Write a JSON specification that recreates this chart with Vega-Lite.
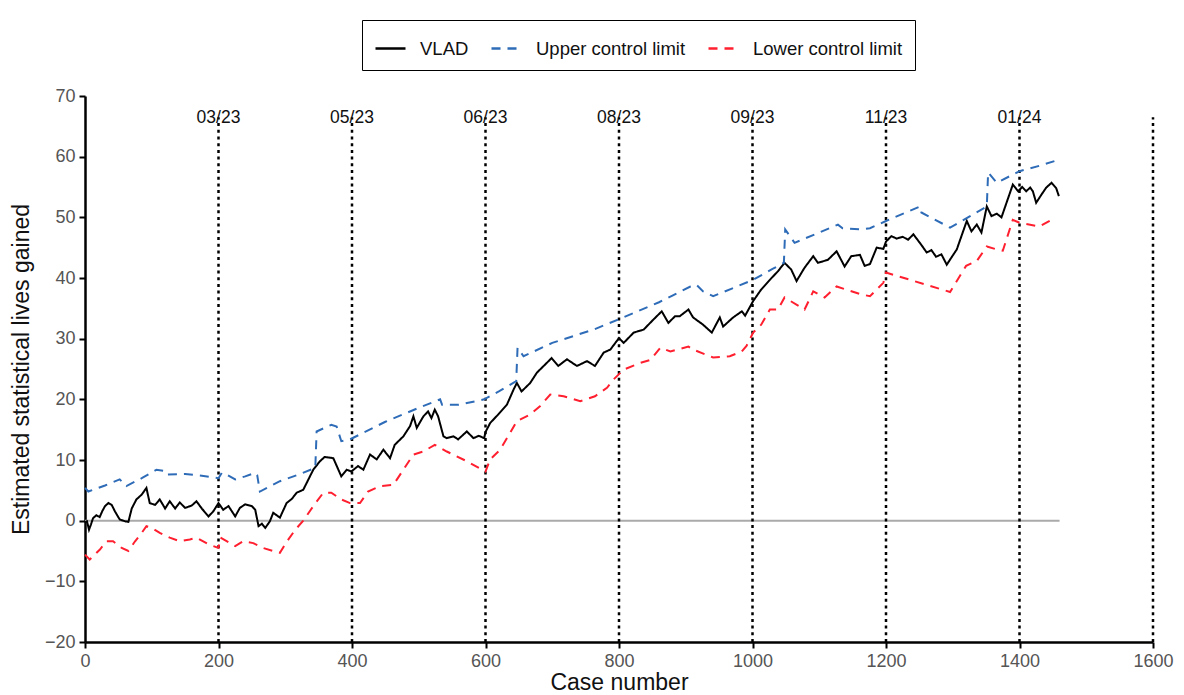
{
  "$schema": "https://vega.github.io/schema/vega-lite/v6.json",
  "width": 1068,
  "height": 546,
  "autosize": {"type": "none"},
  "padding": {"left": 85, "top": 96, "right": 31, "bottom": 53},
  "background": "white",
  "config": {
    "view": {"stroke": null},
    "font": "Liberation Sans",
    "axis": {
      "grid": false,
      "labelFlush": false,
      "domainColor": "#000000",
      "domainWidth": 2.5,
      "tickColor": "#000000",
      "tickWidth": 2,
      "tickSize": 6,
      "labelFont": "Liberation Sans",
      "labelFontSize": 18,
      "labelColor": "#555555",
      "labelPadding": 4,
      "titleFont": "Liberation Sans",
      "titleFontSize": 23,
      "titleFontWeight": "normal",
      "titleColor": "#111111"
    },
    "legend": {
      "strokeColor": "#000000",
      "padding": 12,
      "labelFontSize": 18.5,
      "labelFont": "Liberation Sans",
      "labelColor": "#111111",
      "labelOffset": 13,
      "columnPadding": 17,
      "symbolType": "stroke",
      "symbolSize": 900,
      "symbolStrokeWidth": 2.5
    }
  },
  "datasets": {
    "zero": [{"case": 0, "value": 0}, {"case": 1460, "value": 0}],
    "months": [
      {"case": 200, "label": "03/23"},
      {"case": 400, "label": "05/23"},
      {"case": 600, "label": "06/23"},
      {"case": 800, "label": "08/23"},
      {"case": 1000, "label": "09/23"},
      {"case": 1200, "label": "11/23"},
      {"case": 1400, "label": "01/24"},
      {"case": 1600, "label": ""}
    ],
    "series": [
      {"series": "VLAD", "case": 0, "value": -0.3},
      {"series": "VLAD", "case": 3, "value": -0.1},
      {"series": "VLAD", "case": 6, "value": -1.5},
      {"series": "VLAD", "case": 9, "value": -0.6},
      {"series": "VLAD", "case": 12, "value": 0.4},
      {"series": "VLAD", "case": 17, "value": 0.9},
      {"series": "VLAD", "case": 22, "value": 0.6},
      {"series": "VLAD", "case": 26, "value": 1.6},
      {"series": "VLAD", "case": 30, "value": 2.4},
      {"series": "VLAD", "case": 35, "value": 2.9},
      {"series": "VLAD", "case": 40, "value": 2.6},
      {"series": "VLAD", "case": 45, "value": 1.5},
      {"series": "VLAD", "case": 52, "value": 0.2},
      {"series": "VLAD", "case": 60, "value": -0.1},
      {"series": "VLAD", "case": 65, "value": -0.2},
      {"series": "VLAD", "case": 70, "value": 2.0},
      {"series": "VLAD", "case": 77, "value": 3.5},
      {"series": "VLAD", "case": 85, "value": 4.3},
      {"series": "VLAD", "case": 92, "value": 5.4},
      {"series": "VLAD", "case": 97, "value": 2.9},
      {"series": "VLAD", "case": 105, "value": 2.6},
      {"series": "VLAD", "case": 112, "value": 3.5},
      {"series": "VLAD", "case": 120, "value": 2.0},
      {"series": "VLAD", "case": 127, "value": 3.2},
      {"series": "VLAD", "case": 135, "value": 2.0},
      {"series": "VLAD", "case": 142, "value": 3.0},
      {"series": "VLAD", "case": 150, "value": 2.1},
      {"series": "VLAD", "case": 160, "value": 2.5},
      {"series": "VLAD", "case": 167, "value": 3.2},
      {"series": "VLAD", "case": 175, "value": 2.0},
      {"series": "VLAD", "case": 185, "value": 0.7},
      {"series": "VLAD", "case": 192, "value": 1.5},
      {"series": "VLAD", "case": 200, "value": 2.9},
      {"series": "VLAD", "case": 207, "value": 1.8},
      {"series": "VLAD", "case": 215, "value": 2.4},
      {"series": "VLAD", "case": 225, "value": 0.7},
      {"series": "VLAD", "case": 232, "value": 2.1},
      {"series": "VLAD", "case": 240, "value": 2.7},
      {"series": "VLAD", "case": 250, "value": 2.4},
      {"series": "VLAD", "case": 255, "value": 1.8},
      {"series": "VLAD", "case": 260, "value": -0.9},
      {"series": "VLAD", "case": 265, "value": -0.5},
      {"series": "VLAD", "case": 270, "value": -1.2},
      {"series": "VLAD", "case": 277, "value": -0.1},
      {"series": "VLAD", "case": 282, "value": 1.3},
      {"series": "VLAD", "case": 292, "value": 0.5},
      {"series": "VLAD", "case": 302, "value": 2.9},
      {"series": "VLAD", "case": 310, "value": 3.6},
      {"series": "VLAD", "case": 317, "value": 4.6},
      {"series": "VLAD", "case": 327, "value": 5.1},
      {"series": "VLAD", "case": 332, "value": 6.2},
      {"series": "VLAD", "case": 342, "value": 8.4},
      {"series": "VLAD", "case": 352, "value": 9.8},
      {"series": "VLAD", "case": 359, "value": 10.5},
      {"series": "VLAD", "case": 372, "value": 10.3},
      {"series": "VLAD", "case": 384, "value": 7.3},
      {"series": "VLAD", "case": 392, "value": 8.4},
      {"series": "VLAD", "case": 399, "value": 8.1},
      {"series": "VLAD", "case": 409, "value": 9.0},
      {"series": "VLAD", "case": 417, "value": 8.4},
      {"series": "VLAD", "case": 427, "value": 10.9},
      {"series": "VLAD", "case": 437, "value": 10.1},
      {"series": "VLAD", "case": 447, "value": 11.7},
      {"series": "VLAD", "case": 457, "value": 10.3},
      {"series": "VLAD", "case": 464, "value": 12.5},
      {"series": "VLAD", "case": 477, "value": 13.9},
      {"series": "VLAD", "case": 487, "value": 15.6},
      {"series": "VLAD", "case": 492, "value": 17.2},
      {"series": "VLAD", "case": 497, "value": 15.3},
      {"series": "VLAD", "case": 507, "value": 17.2},
      {"series": "VLAD", "case": 514, "value": 18.0},
      {"series": "VLAD", "case": 519, "value": 16.9},
      {"series": "VLAD", "case": 524, "value": 18.3},
      {"series": "VLAD", "case": 529, "value": 17.2},
      {"series": "VLAD", "case": 537, "value": 13.9},
      {"series": "VLAD", "case": 542, "value": 13.6},
      {"series": "VLAD", "case": 552, "value": 13.9},
      {"series": "VLAD", "case": 559, "value": 13.4},
      {"series": "VLAD", "case": 572, "value": 14.7},
      {"series": "VLAD", "case": 582, "value": 13.6},
      {"series": "VLAD", "case": 590, "value": 14.0},
      {"series": "VLAD", "case": 598, "value": 13.6},
      {"series": "VLAD", "case": 600, "value": 14.6},
      {"series": "VLAD", "case": 607, "value": 16.1},
      {"series": "VLAD", "case": 619, "value": 17.5},
      {"series": "VLAD", "case": 632, "value": 19.1},
      {"series": "VLAD", "case": 642, "value": 21.6},
      {"series": "VLAD", "case": 647, "value": 22.7},
      {"series": "VLAD", "case": 654, "value": 21.3},
      {"series": "VLAD", "case": 667, "value": 22.7},
      {"series": "VLAD", "case": 677, "value": 24.4},
      {"series": "VLAD", "case": 689, "value": 25.7},
      {"series": "VLAD", "case": 699, "value": 26.8},
      {"series": "VLAD", "case": 709, "value": 25.5},
      {"series": "VLAD", "case": 722, "value": 26.6},
      {"series": "VLAD", "case": 737, "value": 25.5},
      {"series": "VLAD", "case": 752, "value": 26.3},
      {"series": "VLAD", "case": 764, "value": 25.5},
      {"series": "VLAD", "case": 777, "value": 27.7},
      {"series": "VLAD", "case": 787, "value": 28.2},
      {"series": "VLAD", "case": 800, "value": 30.1},
      {"series": "VLAD", "case": 807, "value": 29.3},
      {"series": "VLAD", "case": 822, "value": 31.0},
      {"series": "VLAD", "case": 837, "value": 31.5},
      {"series": "VLAD", "case": 852, "value": 33.2},
      {"series": "VLAD", "case": 864, "value": 34.5},
      {"series": "VLAD", "case": 874, "value": 32.6},
      {"series": "VLAD", "case": 884, "value": 33.7},
      {"series": "VLAD", "case": 891, "value": 33.7},
      {"series": "VLAD", "case": 904, "value": 34.8},
      {"series": "VLAD", "case": 911, "value": 33.5},
      {"series": "VLAD", "case": 926, "value": 32.3},
      {"series": "VLAD", "case": 939, "value": 31.0},
      {"series": "VLAD", "case": 951, "value": 33.5},
      {"series": "VLAD", "case": 956, "value": 32.0},
      {"series": "VLAD", "case": 971, "value": 33.5},
      {"series": "VLAD", "case": 984, "value": 34.5},
      {"series": "VLAD", "case": 989, "value": 33.8},
      {"series": "VLAD", "case": 1001, "value": 36.2},
      {"series": "VLAD", "case": 1013, "value": 38.1},
      {"series": "VLAD", "case": 1026, "value": 39.7},
      {"series": "VLAD", "case": 1038, "value": 41.1},
      {"series": "VLAD", "case": 1048, "value": 42.5},
      {"series": "VLAD", "case": 1058, "value": 41.4},
      {"series": "VLAD", "case": 1066, "value": 39.5},
      {"series": "VLAD", "case": 1078, "value": 41.7},
      {"series": "VLAD", "case": 1091, "value": 43.6},
      {"series": "VLAD", "case": 1098, "value": 42.5},
      {"series": "VLAD", "case": 1113, "value": 43.0},
      {"series": "VLAD", "case": 1126, "value": 44.4},
      {"series": "VLAD", "case": 1138, "value": 41.9},
      {"series": "VLAD", "case": 1148, "value": 43.6},
      {"series": "VLAD", "case": 1161, "value": 43.8},
      {"series": "VLAD", "case": 1168, "value": 42.0},
      {"series": "VLAD", "case": 1176, "value": 42.3},
      {"series": "VLAD", "case": 1186, "value": 45.0},
      {"series": "VLAD", "case": 1196, "value": 44.8},
      {"series": "VLAD", "case": 1200, "value": 46.0},
      {"series": "VLAD", "case": 1208, "value": 46.9},
      {"series": "VLAD", "case": 1216, "value": 46.5},
      {"series": "VLAD", "case": 1225, "value": 46.8},
      {"series": "VLAD", "case": 1233, "value": 46.3},
      {"series": "VLAD", "case": 1241, "value": 47.2},
      {"series": "VLAD", "case": 1252, "value": 45.6},
      {"series": "VLAD", "case": 1261, "value": 44.2},
      {"series": "VLAD", "case": 1268, "value": 44.6},
      {"series": "VLAD", "case": 1275, "value": 43.5},
      {"series": "VLAD", "case": 1283, "value": 43.9},
      {"series": "VLAD", "case": 1291, "value": 42.2},
      {"series": "VLAD", "case": 1306, "value": 44.7},
      {"series": "VLAD", "case": 1321, "value": 49.4},
      {"series": "VLAD", "case": 1328, "value": 47.7},
      {"series": "VLAD", "case": 1336, "value": 48.8},
      {"series": "VLAD", "case": 1343, "value": 47.5},
      {"series": "VLAD", "case": 1351, "value": 51.8},
      {"series": "VLAD", "case": 1358, "value": 50.2},
      {"series": "VLAD", "case": 1366, "value": 50.6},
      {"series": "VLAD", "case": 1373, "value": 50.0},
      {"series": "VLAD", "case": 1390, "value": 55.4},
      {"series": "VLAD", "case": 1398, "value": 54.3},
      {"series": "VLAD", "case": 1404, "value": 55.0},
      {"series": "VLAD", "case": 1410, "value": 54.3},
      {"series": "VLAD", "case": 1416, "value": 54.9},
      {"series": "VLAD", "case": 1420, "value": 54.3},
      {"series": "VLAD", "case": 1425, "value": 52.4},
      {"series": "VLAD", "case": 1432, "value": 53.6},
      {"series": "VLAD", "case": 1440, "value": 54.9},
      {"series": "VLAD", "case": 1448, "value": 55.7},
      {"series": "VLAD", "case": 1455, "value": 54.8},
      {"series": "VLAD", "case": 1459, "value": 53.5},

      {"series": "Upper control limit", "case": 0, "value": 5.4},
      {"series": "Upper control limit", "case": 5, "value": 4.8},
      {"series": "Upper control limit", "case": 30, "value": 5.8},
      {"series": "Upper control limit", "case": 52, "value": 6.8},
      {"series": "Upper control limit", "case": 62, "value": 5.7},
      {"series": "Upper control limit", "case": 85, "value": 7.0},
      {"series": "Upper control limit", "case": 107, "value": 8.4},
      {"series": "Upper control limit", "case": 120, "value": 8.2},
      {"series": "Upper control limit", "case": 123, "value": 7.6},
      {"series": "Upper control limit", "case": 150, "value": 7.7},
      {"series": "Upper control limit", "case": 175, "value": 7.4},
      {"series": "Upper control limit", "case": 200, "value": 7.0},
      {"series": "Upper control limit", "case": 205, "value": 7.9},
      {"series": "Upper control limit", "case": 212, "value": 7.6},
      {"series": "Upper control limit", "case": 225, "value": 6.8},
      {"series": "Upper control limit", "case": 240, "value": 7.3},
      {"series": "Upper control limit", "case": 255, "value": 7.9},
      {"series": "Upper control limit", "case": 258, "value": 7.5},
      {"series": "Upper control limit", "case": 262, "value": 4.8},
      {"series": "Upper control limit", "case": 292, "value": 6.5},
      {"series": "Upper control limit", "case": 320, "value": 7.6},
      {"series": "Upper control limit", "case": 345, "value": 8.7},
      {"series": "Upper control limit", "case": 347, "value": 14.7},
      {"series": "Upper control limit", "case": 369, "value": 15.8},
      {"series": "Upper control limit", "case": 377, "value": 15.5},
      {"series": "Upper control limit", "case": 384, "value": 13.1},
      {"series": "Upper control limit", "case": 397, "value": 13.4},
      {"series": "Upper control limit", "case": 450, "value": 16.3},
      {"series": "Upper control limit", "case": 500, "value": 18.6},
      {"series": "Upper control limit", "case": 532, "value": 20.0},
      {"series": "Upper control limit", "case": 535, "value": 19.1},
      {"series": "Upper control limit", "case": 560, "value": 19.1},
      {"series": "Upper control limit", "case": 598, "value": 20.0},
      {"series": "Upper control limit", "case": 620, "value": 21.3},
      {"series": "Upper control limit", "case": 646, "value": 23.0},
      {"series": "Upper control limit", "case": 648, "value": 28.5},
      {"series": "Upper control limit", "case": 657, "value": 27.1},
      {"series": "Upper control limit", "case": 700, "value": 29.3},
      {"series": "Upper control limit", "case": 762, "value": 31.5},
      {"series": "Upper control limit", "case": 800, "value": 33.2},
      {"series": "Upper control limit", "case": 860, "value": 36.0},
      {"series": "Upper control limit", "case": 907, "value": 38.6},
      {"series": "Upper control limit", "case": 916, "value": 38.9},
      {"series": "Upper control limit", "case": 926, "value": 37.8},
      {"series": "Upper control limit", "case": 941, "value": 37.0},
      {"series": "Upper control limit", "case": 970, "value": 38.3},
      {"series": "Upper control limit", "case": 1001, "value": 39.7},
      {"series": "Upper control limit", "case": 1030, "value": 41.5},
      {"series": "Upper control limit", "case": 1047, "value": 42.5},
      {"series": "Upper control limit", "case": 1049, "value": 48.0},
      {"series": "Upper control limit", "case": 1063, "value": 45.8},
      {"series": "Upper control limit", "case": 1100, "value": 47.5},
      {"series": "Upper control limit", "case": 1128, "value": 48.8},
      {"series": "Upper control limit", "case": 1135, "value": 48.2},
      {"series": "Upper control limit", "case": 1163, "value": 48.0},
      {"series": "Upper control limit", "case": 1176, "value": 48.2},
      {"series": "Upper control limit", "case": 1200, "value": 49.4},
      {"series": "Upper control limit", "case": 1251, "value": 51.8},
      {"series": "Upper control limit", "case": 1253, "value": 50.8},
      {"series": "Upper control limit", "case": 1296, "value": 48.3},
      {"series": "Upper control limit", "case": 1351, "value": 51.8},
      {"series": "Upper control limit", "case": 1353, "value": 57.4},
      {"series": "Upper control limit", "case": 1366, "value": 55.7},
      {"series": "Upper control limit", "case": 1400, "value": 57.6},
      {"series": "Upper control limit", "case": 1430, "value": 58.5},
      {"series": "Upper control limit", "case": 1459, "value": 59.5},

      {"series": "Lower control limit", "case": 0, "value": -5.6},
      {"series": "Lower control limit", "case": 7, "value": -6.4},
      {"series": "Lower control limit", "case": 22, "value": -4.8},
      {"series": "Lower control limit", "case": 32, "value": -3.4},
      {"series": "Lower control limit", "case": 42, "value": -3.4},
      {"series": "Lower control limit", "case": 55, "value": -4.5},
      {"series": "Lower control limit", "case": 65, "value": -5.0},
      {"series": "Lower control limit", "case": 75, "value": -3.4},
      {"series": "Lower control limit", "case": 85, "value": -2.0},
      {"series": "Lower control limit", "case": 92, "value": -0.9},
      {"series": "Lower control limit", "case": 100, "value": -1.2},
      {"series": "Lower control limit", "case": 112, "value": -2.0},
      {"series": "Lower control limit", "case": 127, "value": -2.8},
      {"series": "Lower control limit", "case": 142, "value": -3.4},
      {"series": "Lower control limit", "case": 157, "value": -3.1},
      {"series": "Lower control limit", "case": 167, "value": -2.8},
      {"series": "Lower control limit", "case": 185, "value": -3.9},
      {"series": "Lower control limit", "case": 200, "value": -4.5},
      {"series": "Lower control limit", "case": 203, "value": -2.8},
      {"series": "Lower control limit", "case": 225, "value": -4.2},
      {"series": "Lower control limit", "case": 237, "value": -3.4},
      {"series": "Lower control limit", "case": 252, "value": -3.7},
      {"series": "Lower control limit", "case": 267, "value": -4.5},
      {"series": "Lower control limit", "case": 282, "value": -5.0},
      {"series": "Lower control limit", "case": 292, "value": -5.3},
      {"series": "Lower control limit", "case": 302, "value": -3.5},
      {"series": "Lower control limit", "case": 315, "value": -1.5},
      {"series": "Lower control limit", "case": 327, "value": 0.0},
      {"series": "Lower control limit", "case": 342, "value": 2.4},
      {"series": "Lower control limit", "case": 357, "value": 4.6},
      {"series": "Lower control limit", "case": 369, "value": 4.6},
      {"series": "Lower control limit", "case": 384, "value": 3.5},
      {"series": "Lower control limit", "case": 397, "value": 2.9},
      {"series": "Lower control limit", "case": 412, "value": 2.9},
      {"series": "Lower control limit", "case": 424, "value": 4.8},
      {"series": "Lower control limit", "case": 442, "value": 5.7},
      {"series": "Lower control limit", "case": 462, "value": 5.9},
      {"series": "Lower control limit", "case": 477, "value": 8.4},
      {"series": "Lower control limit", "case": 492, "value": 10.9},
      {"series": "Lower control limit", "case": 507, "value": 11.4},
      {"series": "Lower control limit", "case": 524, "value": 12.5},
      {"series": "Lower control limit", "case": 542, "value": 11.4},
      {"series": "Lower control limit", "case": 572, "value": 9.8},
      {"series": "Lower control limit", "case": 600, "value": 8.1},
      {"series": "Lower control limit", "case": 607, "value": 10.1},
      {"series": "Lower control limit", "case": 622, "value": 11.7},
      {"series": "Lower control limit", "case": 637, "value": 14.5},
      {"series": "Lower control limit", "case": 647, "value": 16.4},
      {"series": "Lower control limit", "case": 667, "value": 17.5},
      {"series": "Lower control limit", "case": 682, "value": 18.9},
      {"series": "Lower control limit", "case": 697, "value": 20.8},
      {"series": "Lower control limit", "case": 717, "value": 20.5},
      {"series": "Lower control limit", "case": 742, "value": 19.7},
      {"series": "Lower control limit", "case": 764, "value": 20.5},
      {"series": "Lower control limit", "case": 782, "value": 21.9},
      {"series": "Lower control limit", "case": 792, "value": 23.3},
      {"series": "Lower control limit", "case": 807, "value": 24.9},
      {"series": "Lower control limit", "case": 832, "value": 26.0},
      {"series": "Lower control limit", "case": 847, "value": 26.5},
      {"series": "Lower control limit", "case": 862, "value": 28.5},
      {"series": "Lower control limit", "case": 877, "value": 27.9},
      {"series": "Lower control limit", "case": 904, "value": 28.7},
      {"series": "Lower control limit", "case": 911, "value": 28.2},
      {"series": "Lower control limit", "case": 941, "value": 26.9},
      {"series": "Lower control limit", "case": 966, "value": 27.1},
      {"series": "Lower control limit", "case": 984, "value": 27.9},
      {"series": "Lower control limit", "case": 991, "value": 28.8},
      {"series": "Lower control limit", "case": 1001, "value": 31.0},
      {"series": "Lower control limit", "case": 1013, "value": 32.3},
      {"series": "Lower control limit", "case": 1026, "value": 34.8},
      {"series": "Lower control limit", "case": 1038, "value": 34.8},
      {"series": "Lower control limit", "case": 1048, "value": 36.8},
      {"series": "Lower control limit", "case": 1078, "value": 34.8},
      {"series": "Lower control limit", "case": 1091, "value": 37.8},
      {"series": "Lower control limit", "case": 1108, "value": 36.8},
      {"series": "Lower control limit", "case": 1126, "value": 38.6},
      {"series": "Lower control limit", "case": 1163, "value": 37.3},
      {"series": "Lower control limit", "case": 1176, "value": 37.0},
      {"series": "Lower control limit", "case": 1196, "value": 39.2},
      {"series": "Lower control limit", "case": 1200, "value": 40.9},
      {"series": "Lower control limit", "case": 1296, "value": 37.7},
      {"series": "Lower control limit", "case": 1320, "value": 42.0},
      {"series": "Lower control limit", "case": 1336, "value": 42.8},
      {"series": "Lower control limit", "case": 1351, "value": 45.2},
      {"series": "Lower control limit", "case": 1366, "value": 44.7},
      {"series": "Lower control limit", "case": 1375, "value": 44.5},
      {"series": "Lower control limit", "case": 1390, "value": 49.6},
      {"series": "Lower control limit", "case": 1400, "value": 49.1},
      {"series": "Lower control limit", "case": 1430, "value": 48.5},
      {"series": "Lower control limit", "case": 1448, "value": 49.6}
    ]
  },
  "encoding": {
    "x": {
      "field": "case",
      "type": "quantitative",
      "scale": {"domain": [0, 1600], "nice": false},
      "axis": {"values": [0, 200, 400, 600, 800, 1000, 1200, 1400, 1600], "format": "d", "title": "Case number", "titlePadding": 1}
    }
  },
  "layer": [
    {
      "data": {"name": "zero"},
      "mark": {"type": "line", "color": "#aaaaaa", "strokeWidth": 2},
      "encoding": {
        "y": {
          "field": "value",
          "type": "quantitative",
          "scale": {"domain": [-20, 70], "nice": false},
          "axis": {"values": [-20, -10, 0, 10, 20, 30, 40, 50, 60, 70], "title": "Estimated statistical lives gained", "titlePadding": 11}
        }
      }
    },
    {
      "data": {"name": "months"},
      "mark": {"type": "rule", "color": "#000000", "strokeWidth": 2.5, "strokeDash": [3, 3.7]},
      "encoding": {
        "y": {"datum": -20},
        "y2": {"datum": 66.5}
      }
    },
    {
      "data": {"name": "months"},
      "mark": {"type": "text", "fontSize": 17.5, "color": "#111111", "baseline": "middle", "align": "center", "font": "Liberation Sans"},
      "encoding": {
        "y": {"datum": 66.3},
        "text": {"field": "label"}
      }
    },
    {
      "data": {"name": "series"},
      "mark": {"type": "line", "strokeWidth": 2},
      "encoding": {
        "y": {"field": "value", "type": "quantitative"},
        "color": {
          "field": "series",
          "type": "nominal",
          "scale": {"domain": ["VLAD", "Upper control limit", "Lower control limit"], "range": ["#000000", "#2f6cb8", "#ff1f2f"]},
          "legend": {"title": null, "orient": "none", "legendX": 277, "legendY": -76, "direction": "horizontal"}
        },
        "strokeDash": {
          "field": "series",
          "type": "nominal",
          "scale": {"domain": ["VLAD", "Upper control limit", "Lower control limit"], "range": [[1, 0], [9, 7], [9, 7]]},
          "legend": {"title": null, "orient": "none", "legendX": 277, "legendY": -76, "direction": "horizontal"}
        }
      }
    }
  ]
}
